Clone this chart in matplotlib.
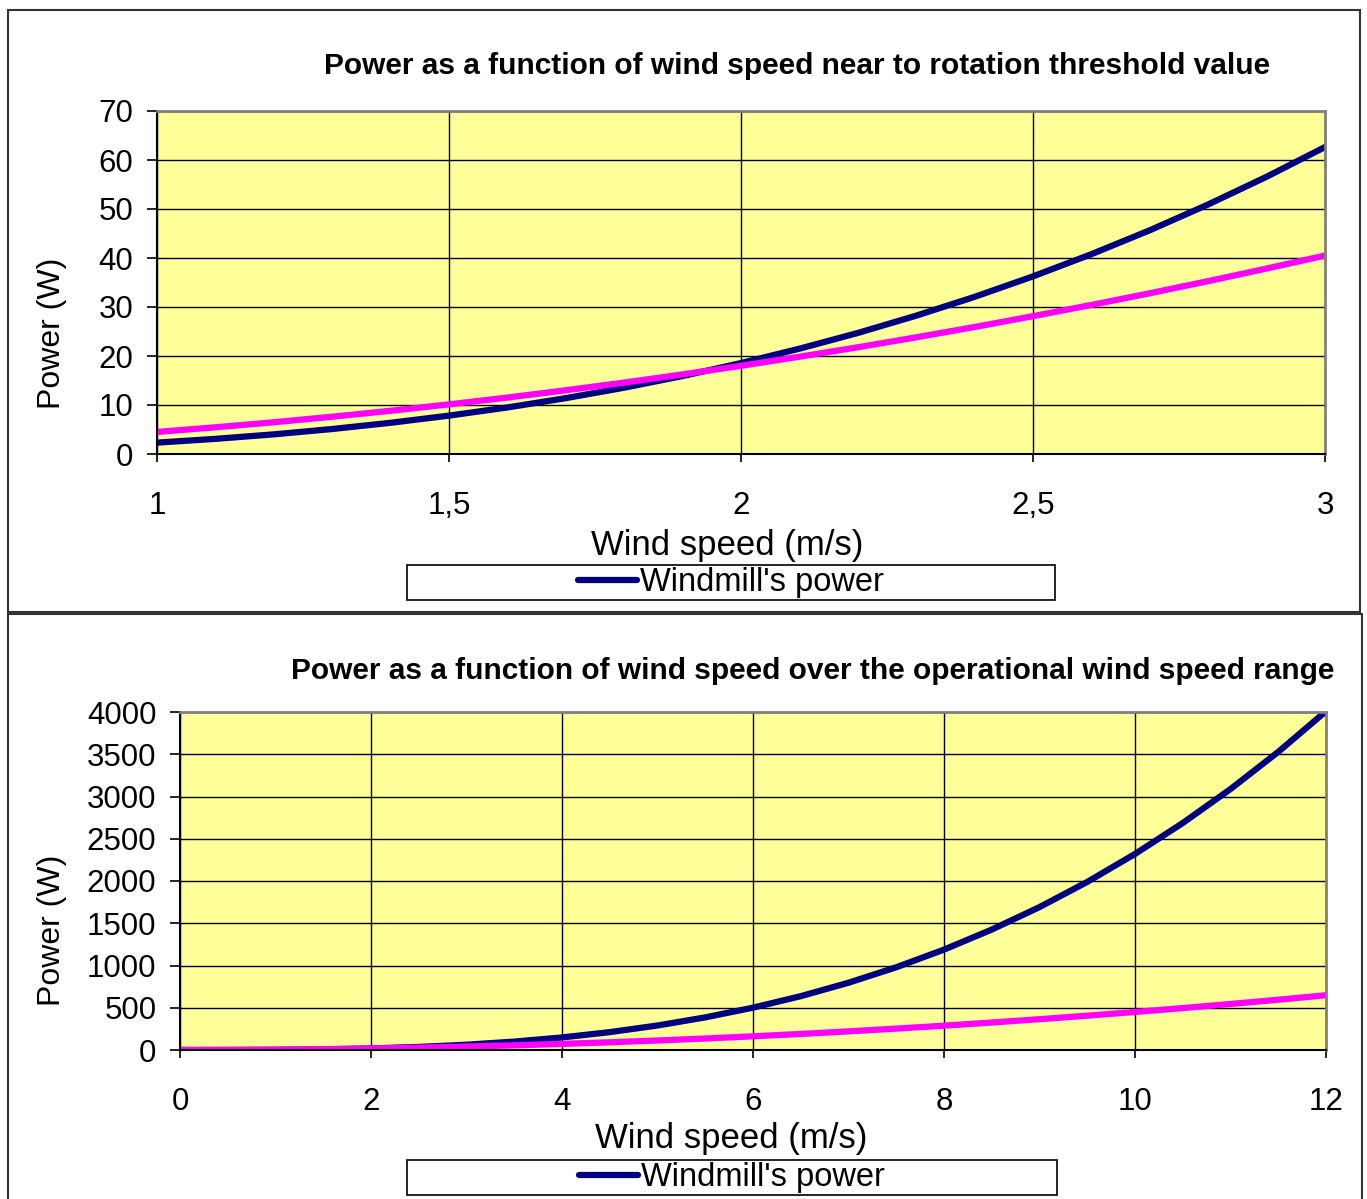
import numpy as np
import matplotlib.pyplot as plt
from matplotlib.lines import Line2D
from matplotlib.patches import Rectangle

plt.rcParams['font.family'] = ['Liberation Sans', 'DejaVu Sans']

# near threshold, 1..3 m/s
speed_low = [1.0, 1.1, 1.2, 1.3, 1.4, 1.5, 1.6, 1.7, 1.8, 1.9, 2.0,
             2.1, 2.2, 2.3, 2.4, 2.5, 2.6, 2.7, 2.8, 2.9, 3.0]
windmill_low = [2.32, 3.09, 4.01, 5.10, 6.37, 7.83, 9.50, 11.40, 13.53, 15.91, 18.56,
                21.49, 24.70, 28.23, 32.07, 36.25, 40.78, 45.66, 50.93, 56.58, 62.64]
second_low = [4.5, 5.45, 6.48, 7.61, 8.82, 10.13, 11.52, 13.01, 14.58, 16.25, 18.0,
              19.85, 21.78, 23.81, 25.92, 28.13, 30.42, 32.81, 35.28, 37.85, 40.5]

# operational range, 0..12 m/s
speed_full = [0, 0.5, 1, 1.5, 2, 2.5, 3, 3.5, 4, 4.5, 5, 5.5, 6,
              6.5, 7, 7.5, 8, 8.5, 9, 9.5, 10, 10.5, 11, 11.5, 12]
windmill_full = [0, 0.29, 2.32, 7.83, 18.6, 36.3, 62.6, 99.5, 148.5, 211.4, 290, 386, 501,
                 637, 796, 979, 1188, 1425, 1691, 1989, 2320, 2686, 3088, 3528, 4009]
second_full = [0, 1.1, 4.5, 10.1, 18, 28.1, 40.5, 55.1, 72, 91.1, 112.5, 136.1, 162,
               190.1, 220.5, 253.1, 288, 325.1, 364.5, 406.1, 450, 496.1, 544.5, 595.1, 648]

xticks_low = [1, 1.5, 2, 2.5, 3]
xlabels_low = ['1', '1,5', '2', '2,5', '3']
yticks_low = list(range(0, 71, 10))
xticks_full = list(range(0, 13, 2))
yticks_full = list(range(0, 4001, 500))

W, H = 1367, 1199
fig = plt.figure(figsize=(W / 100, H / 100), dpi=100)

def fx(px):
    return px / W

def fy(py):
    return 1 - py / H

# outer chart frames
fig.patches.append(Rectangle((fx(8), fy(612)), fx(1352), 602 / H, transform=fig.transFigure,
                             fill=False, edgecolor='#333333', linewidth=1.5))
fig.patches.append(Rectangle((fx(8), fy(1230)), fx(1354), 616 / H, transform=fig.transFigure,
                             fill=False, edgecolor='#333333', linewidth=1.5))


def style_axes(ax, xticks, yticks):
    ax.set_facecolor('#FFFF99')
    ax.set_xticks(xticks)
    ax.set_yticks(yticks)
    ax.set_xlim(xticks[0], xticks[-1])
    ax.set_ylim(yticks[0], yticks[-1])
    ax.grid(True, color='black', linewidth=1.0)
    ax.set_axisbelow(True)
    for s in ['top', 'right']:
        ax.spines[s].set_color('#808080')
        ax.spines[s].set_linewidth(2)
    for s in ['left', 'bottom']:
        ax.spines[s].set_color('black')
        ax.spines[s].set_linewidth(1.5)
    ax.tick_params(axis='y', direction='out', length=7, width=1.2, pad=10, labelsize=22.5)
    ax.tick_params(axis='x', direction='out', length=6, width=1.2, pad=21, labelsize=22.5)


def add_legend(ax, box):
    x0, y0, x1, y1 = box
    fig.patches.append(Rectangle((fx(x0), fy(y1)), fx(x1 - x0), (y1 - y0) / H,
                                 transform=fig.transFigure, fill=False,
                                 edgecolor='black', linewidth=1.2))
    handle = Line2D([], [], color='#000080', linewidth=4.5, solid_capstyle='round')
    ax.legend([handle], ["Windmill's power"], loc='center', frameon=False,
              bbox_to_anchor=(fx((x0 + x1) / 2), fy((y0 + y1) / 2)),
              bbox_transform=fig.transFigure, fontsize=23.5,
              handlelength=1.8, handletextpad=0.1, borderpad=0)


# top chart
ax1 = fig.add_axes([fx(157), fy(454), fx(1325 - 157), (454 - 111) / H])
style_axes(ax1, xticks_low, yticks_low)
ax1.set_xticklabels(xlabels_low)
ax1.plot(speed_low, windmill_low, color='#000080', linewidth=4.5)
ax1.plot(speed_low, second_low, color='#FF00FF', linewidth=4.5)
ax1.set_xlabel('Wind speed (m/s)', fontsize=25)
ax1.xaxis.set_label_coords(0.488, -0.22)
ax1.set_ylabel('Power (W)', fontsize=23)
ax1.yaxis.set_label_coords((67 - 157) / 1168, 0.353)
fig.text(fx(797), fy(66), 'Power as a function of wind speed near to rotation threshold value',
         ha='center', va='center', fontsize=21.5, fontweight='bold')
add_legend(ax1, (407, 565, 1055, 600))

# bottom chart
ax2 = fig.add_axes([fx(180), fy(1050), fx(1326 - 180), (1050 - 712) / H])
style_axes(ax2, xticks_full, yticks_full)
ax2.plot(speed_full, windmill_full, color='#000080', linewidth=4.5)
ax2.plot(speed_full, second_full, color='#FF00FF', linewidth=4.5)
ax2.set_xlabel('Wind speed (m/s)', fontsize=25)
ax2.xaxis.set_label_coords(0.481, -0.212)
ax2.set_ylabel('Power (W)', fontsize=23)
ax2.yaxis.set_label_coords((67 - 180) / 1146, 0.355)
fig.text(fx(813), fy(671), 'Power as a function of wind speed over the operational wind speed range',
         ha='center', va='center', fontsize=21.5, fontweight='bold')
add_legend(ax2, (407, 1160, 1057, 1195))

fig.savefig('out.png', dpi=100)
